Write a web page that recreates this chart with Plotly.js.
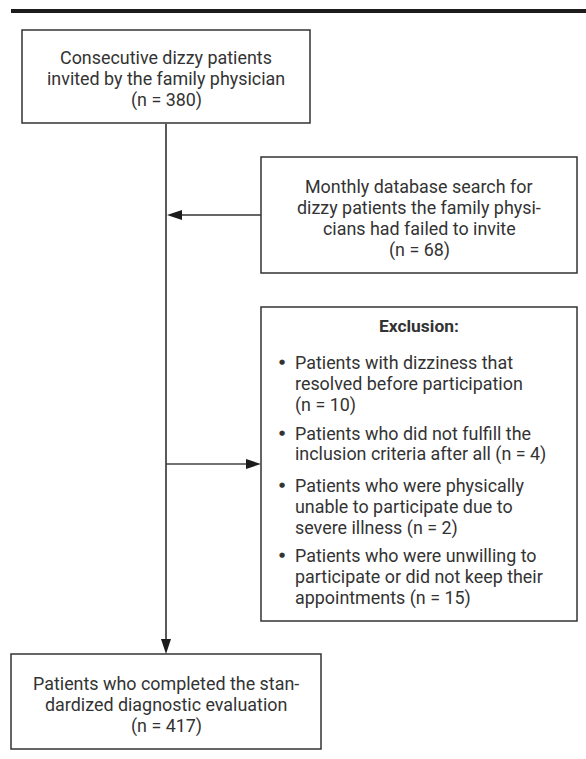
<!DOCTYPE html>
<html>
<head>
<meta charset="utf-8">
<script src="https://cdn.plot.ly/plotly-3.0.1.min.js"></script>
<style>html,body{margin:0;padding:0;background:#fff}#chart{width:586px;height:759px}</style>
</head>
<body>
<div id="chart"></div>
<script>
// ---- data ----
const boxTexts = [
  "Consecutive dizzy patients<br>invited by the family physician",
  "Monthly database search for<br>dizzy patients the family physi-<br>cians had failed to invite",
  "Patients who completed the stan-<br>dardized diagnostic evaluation"
];
const boxCounts = [380, 68, 417];
const exclusionTitle = "Exclusion:";
const exclusionReasons = [
  "Patients with dizziness that<br>resolved before participation",
  "Patients who did not fulfill the<br>inclusion criteria after all",
  "Patients who were physically<br>unable to participate due to<br>severe illness",
  "Patients who were unwilling to<br>participate or did not keep their<br>appointments"
];
const exclusionCountSep = ["<br>", " ", " ", " "];
const exclusionCounts = [10, 4, 2, 15];

// ---- layout geometry (pixels) ----
const W = 586, H = 759;
const boxes = [
  {x0: 22, x1: 310, y0: 30, y1: 123, firstLine: 57},
  {x0: 261, x1: 577, y0: 157, y1: 273, firstLine: 186},
  {x0: 11, x1: 321, y0: 654, y1: 749, firstLine: 683}
];
const exBox = {x0: 261, x1: 577, y0: 307, y1: 621};
const exTitleY = 326;
const exItemFirstLine = [362, 433, 485, 555];
const LH = 21.4;
const spineX = 166;
const arrowInY = 215, arrowOutY = 464;

const FONT = "Roboto, Liberation Sans, sans-serif";
const TXT = "#333", LINE = "#333";
const FS = 17.9;

const shapes = [];
const annotations = [];

function addLines(text, x, y0, anchor) {
  text.split("<br>").forEach((ln, k) => {
    annotations.push({xref: "x", yref: "y", x: x, y: y0 + k * LH, text: ln,
      showarrow: false, xanchor: anchor, yanchor: "middle", borderpad: 0,
      font: {family: FONT, size: FS, color: TXT}});
  });
}

// top rule
shapes.push({type: "rect", xref: "x", yref: "y", x0: 11, x1: W, y0: 9, y1: 13,
  fillcolor: "#1c1c1c", line: {width: 0}});

// boxes
boxes.forEach((b, i) => {
  shapes.push({type: "rect", xref: "x", yref: "y", x0: b.x0, x1: b.x1, y0: b.y0, y1: b.y1,
    line: {color: LINE, width: 1.5}, fillcolor: "rgba(0,0,0,0)"});
  addLines(boxTexts[i] + "<br>(n = " + boxCounts[i] + ")", (b.x0 + b.x1) / 2, b.firstLine, "center");
});

// exclusion box
shapes.push({type: "rect", xref: "x", yref: "y", x0: exBox.x0, x1: exBox.x1, y0: exBox.y0, y1: exBox.y1,
  line: {color: LINE, width: 1.5}, fillcolor: "rgba(0,0,0,0)"});
annotations.push({xref: "x", yref: "y", x: (exBox.x0 + exBox.x1) / 2, y: exTitleY,
  text: "<b>" + exclusionTitle + "</b>", showarrow: false, xanchor: "center", yanchor: "middle",
  font: {family: FONT, size: FS - 0.5, color: TXT}});
exclusionReasons.forEach((r, i) => {
  annotations.push({xref: "x", yref: "y", x: 282, y: exItemFirstLine[i],
    text: "●", showarrow: false, xanchor: "center", yanchor: "middle",
    font: {family: "DejaVu Sans, sans-serif", size: 7, color: TXT}});
  addLines(r + exclusionCountSep[i] + "(n = " + exclusionCounts[i] + ")", 294, exItemFirstLine[i], "left");
});

// spine
shapes.push({type: "line", xref: "x", yref: "y", x0: spineX, x1: spineX, y0: boxes[0].y1, y1: boxes[2].y0 - 12,
  line: {color: "#5a5a5a", width: 2}});
// arrow in (from monthly search box to spine)
shapes.push({type: "line", xref: "x", yref: "y", x0: boxes[1].x0, x1: spineX + 12, y0: arrowInY, y1: arrowInY,
  line: {color: LINE, width: 1.3}});
shapes.push({type: "path", xref: "x", yref: "y",
  path: `M ${spineX + 1} ${arrowInY} L ${spineX + 16} ${arrowInY - 5} L ${spineX + 16} ${arrowInY + 5} Z`,
  fillcolor: "#1c1c1c", line: {width: 0}});
// arrow out (spine to exclusion)
shapes.push({type: "line", xref: "x", yref: "y", x0: spineX, x1: exBox.x0 - 12, y0: arrowOutY, y1: arrowOutY,
  line: {color: "#444", width: 1.3}});
shapes.push({type: "path", xref: "x", yref: "y",
  path: `M ${exBox.x0} ${arrowOutY} L ${exBox.x0 - 15} ${arrowOutY - 5} L ${exBox.x0 - 15} ${arrowOutY + 5} Z`,
  fillcolor: "#1c1c1c", line: {width: 0}});
// down arrowhead
shapes.push({type: "path", xref: "x", yref: "y",
  path: `M ${spineX} ${boxes[2].y0} L ${spineX - 5} ${boxes[2].y0 - 15} L ${spineX + 5} ${boxes[2].y0 - 15} Z`,
  fillcolor: "#1c1c1c", line: {width: 0}});

const layout = {
  width: W, height: H,
  margin: {l: 0, r: 0, t: 0, b: 0},
  paper_bgcolor: "#fff", plot_bgcolor: "#fff",
  showlegend: false,
  xaxis: {range: [0, W], visible: false, fixedrange: true},
  yaxis: {range: [H, 0], visible: false, fixedrange: true},
  shapes: shapes,
  annotations: annotations
};

Plotly.newPlot("chart", [], layout, {staticPlot: true, displayModeBar: false});
</script>
</body>
</html>
